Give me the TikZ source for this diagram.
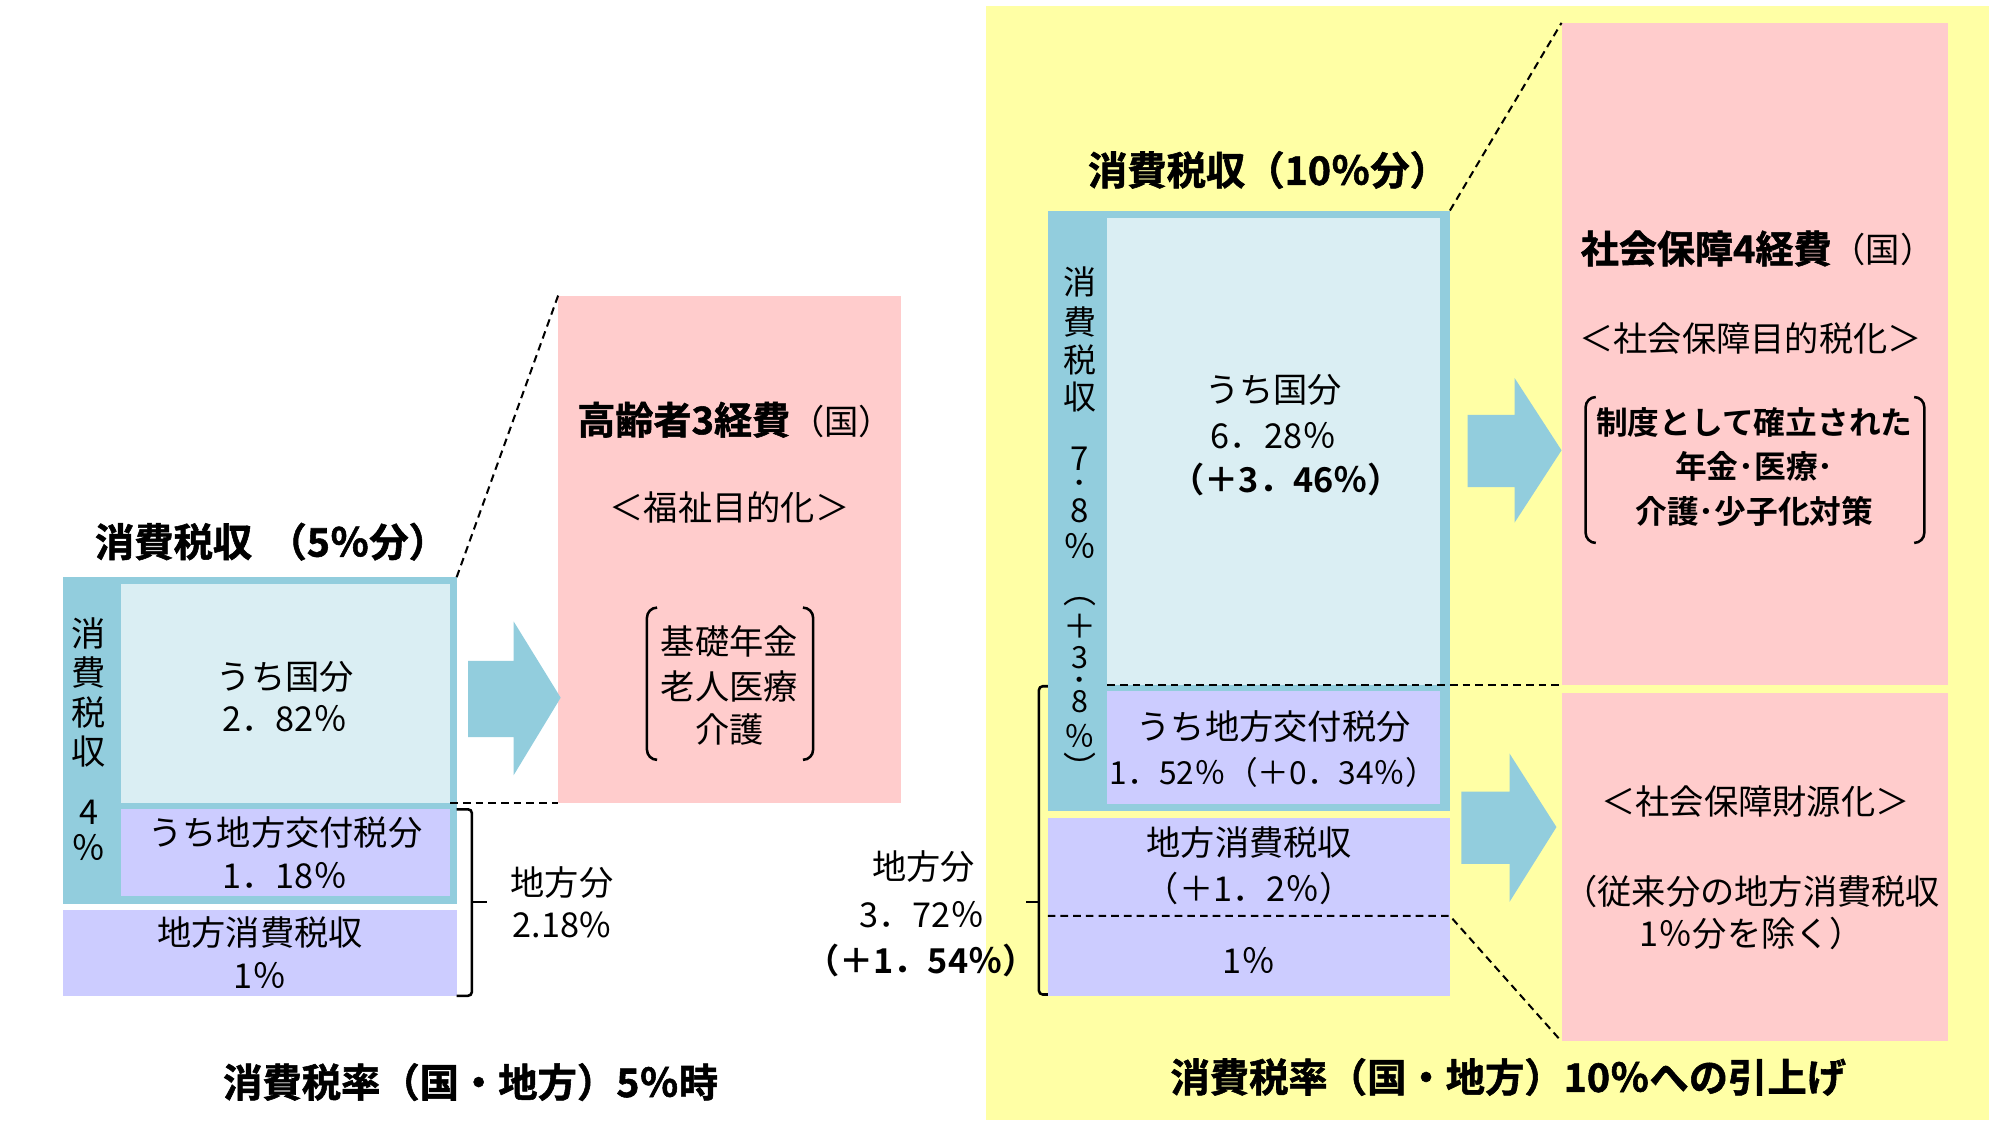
\documentclass[tikz,border=0pt]{standalone}
\usepackage{fontspec}
\setmainfont{Noto Sans CJK JP}[BoldFont={* Bold}]
\newfontfamily\heavy{Noto Sans CJK JP Bold}[FakeBold=1.4]
\definecolor{cblue}{RGB}{146,205,221}
\definecolor{clight}{RGB}{218,238,243}
\definecolor{clav}{RGB}{204,204,255}
\definecolor{cpink}{RGB}{255,204,204}
\definecolor{cyel}{RGB}{255,255,165}
\begin{document}
\begin{tikzpicture}[x=1pt,y=-1pt,
  box/.style={anchor=north west, inner sep=0pt, outer sep=0pt, draw=none},
  t/.style={inner sep=0pt, text height=23.8pt, text depth=3.2pt, font=\fontsize{27}{32}\selectfont},
  tsm/.style={inner sep=0pt, text height=22pt, text depth=3pt, font=\fontsize{25}{30}\selectfont},
  tb/.style={inner sep=0pt, text height=23.8pt, text depth=3.2pt, font=\fontsize{27}{32}\selectfont\bfseries},
  tbs/.style={inner sep=0pt, text height=22pt, text depth=3pt, font=\fontsize{25}{30}\selectfont\bfseries},
  ttl/.style={inner sep=0pt, text height=27.3pt, text depth=3.7pt, font=\fontsize{31}{36}\selectfont\heavy},
  vc/.style={inner sep=0pt, text height=20pt, text depth=0pt, font=\fontsize{26}{30}\selectfont},
  vcs/.style={inner sep=0pt, text height=18pt, text depth=0pt, font=\fontsize{24}{28}\selectfont},
  vdot/.style={inner sep=0pt, text height=9pt, text depth=-1pt, font=\fontsize{16}{18}\selectfont\bfseries},
  dsh/.style={line width=1.6pt, dash pattern=on 6pt off 4pt},
  brk/.style={line width=2pt, rounded corners=3pt},
  par/.style={line width=2pt, rounded corners=8pt},
  arr/.style={fill=cblue, draw=none}]
\fill[white] (0,0) rectangle (1568,891);
\useasboundingbox (0,0) rectangle (1568,891);
% yellow background of the right half
\fill[cyel] (777,5) rectangle (1568,883);

% ---------- left: 5% ----------
\node[box, fill=cblue, minimum width=310pt, minimum height=258pt] (lframe) at (50,455) {};
\node[box, fill=clight, minimum width=260pt, minimum height=173pt] (linner) at (95,460) {};
\node[box, fill=clav, minimum width=260pt, minimum height=68pt] (llav) at (95,638) {};
\node[box, fill=clav, minimum width=310pt, minimum height=68pt] (lbot) at (50,717) {};
\node[box, fill=cpink, minimum width=270pt, minimum height=400pt] (lpink) at (440,233) {};

\draw[dsh] (lframe.north east) -- (lpink.north west);
\draw[dsh] (linner.south east) -- (lpink.south west);

\fill[arr] (369,521) -- (405,521) -- (405,490) -- (442,550) -- (405,611) -- (405,581) -- (369,581) -- cycle;

\coordinate (lbt) at (360,638);
\coordinate (lbb) at (360,785);
\draw[brk] (lbt) -- (372,638) -- (372,785) -- (lbb);
\coordinate (lbm) at (372,711);
\coordinate (lbtip) at (384,711);
\draw[line width=2pt] (lbm) -- (lbtip);

\node[ttl] (ltitle) at (214,427) {消費税収\hspace{12pt}（5％分）};
\foreach \c/\yy [count=\i] in {消/499,費/530,税/562,収/592,4/640,％/668}
  \node[t] (lv\i) at (70,\yy) {\c};
\node[t] (lkoku1) at (225,533) {うち国分};
\node[t] (lkoku2) at (225,566) {2．82％};
\node[t] (lkofu1) at (225,656) {うち地方交付税分};
\node[t] (lkofu2) at (225,690) {1．18％};
\node[t] (lchiho1) at (205,735) {地方消費税収};
\node[t] (lchiho2) at (205,769) {1％};
\node[t] (lbun1) at (443,696) {地方分};
\node[t] (lbun2) at (443,729) {2.18\%};

\node[t, anchor=west] (lptitle) at (455,332) {{\fontsize{30}{34}\selectfont\heavy 高齢者3経費}（国）};
\node[t] (lpsub) at (575,400) {＜福祉目的化＞};
\draw[par] (518,479) -- (510,479) -- (510,599) -- (518,599);
\draw[par] (633,479) -- (641,479) -- (641,599) -- (633,599);
\node[t] (lpi1) at (575,506) {基礎年金};
\node[t] (lpi2) at (575,541) {老人医療};
\node[t] (lpi3) at (575,575) {介護};

\node[ttl] (lbottom) at (371,853) {消費税率（国・地方）5％時};

% ---------- right: 10% ----------
\node[box, fill=cblue, minimum width=317pt, minimum height=473pt] (rframe) at (826,166) {};
\node[box, fill=clight, minimum width=262pt, minimum height=368pt] (rinner) at (873,172) {};
\node[box, fill=clav, minimum width=262pt, minimum height=89pt] (rlav) at (873,545) {};
\node[box, fill=clav, minimum width=317pt, minimum height=140pt] (rbot) at (826,645) {};
\node[box, fill=cpink, minimum width=305pt, minimum height=522pt] (rpink1) at (1231,18) {};
\node[box, fill=cpink, minimum width=305pt, minimum height=275pt] (rpink2) at (1231,546) {};

\draw[dsh] (rframe.north east) -- (rpink1.north west);
\draw[dsh] (rinner.south west) -- (rpink1.south west);
\coordinate (rdl) at (826,722);
\coordinate (rdr) at (1143,722);
\draw[dsh] (rdl) -- (rdr) -- (rpink2.south west);

\fill[arr] (1157,327) -- (1194,327) -- (1194,298) -- (1231,355) -- (1194,412) -- (1194,384) -- (1157,384) -- cycle;
\fill[arr] (1152,624) -- (1190,624) -- (1190,594) -- (1227,652) -- (1190,711) -- (1190,681) -- (1152,681) -- cycle;

\coordinate (rbt) at (826,541);
\coordinate (rbb) at (826,784);
\draw[brk] (rbt) -- (819,541) -- (819,784) -- (rbb);
\coordinate (rbm) at (819,711);
\coordinate (rbtip) at (809,711);
\draw[line width=2pt] (rbm) -- (rbtip);

\node[ttl] (rtitle) at (1000,134) {消費税収（10％分）};
% vertical column text, placed by baseline
\foreach \c/\yy [count=\i] in {消/232,費/264,税/294,収/323,7/371,8/412,％/440,＋/503}
  \node[vc, anchor=base] (rv\i) at (851,\yy) {\c};
\node[vcs, anchor=base] (rv3b) at (851,527) {3};
\node[vcs, anchor=base] (rv8b) at (851,562) {8};
\node[vcs, anchor=base] (rvpb) at (851,589) {％};
\node[vdot, anchor=base] (rvd1) at (851,387) {・};
\node[vdot, anchor=base] (rvd2) at (851,542) {・};
\node[vc, anchor=base] (rvp1) at (851,476) {︵};
\node[vc, anchor=base] (rvp2) at (851,615) {︶};

\node[t] (rkoku1) at (1004,307) {うち国分};
\node[t] (rkoku2) at (1004,343) {6．28％};
\node[tb] (rkoku3) at (1014,378) {（＋3．46％）};
\node[t] (rkofu1) at (1004,573) {うち地方交付税分};
\node[tsm] (rkofu2) at (1004,609) {1．52％（＋0．34％）};
\node[t] (rchiho1) at (985,664) {地方消費税収};
\node[t] (rchiho2) at (985,700) {（＋1．2％）};
\node[t] (rchiho3) at (985,757) {1％};
\node[t] (rbun1) at (728,683) {地方分};
\node[t] (rbun2) at (727,721) {3．72％};
\node[tb] (rbun3) at (726,757) {（＋1．54％）};

\node[t, anchor=west] (rp1title) at (1246,197) {{\fontsize{30}{34}\selectfont\heavy 社会保障4経費}（国）};
\node[t] (rp1sub) at (1380,267) {＜社会保障目的税化＞};
\draw[par] (1258,313) -- (1250,313) -- (1250,428) -- (1258,428);
\draw[par] (1509,313) -- (1517,313) -- (1517,428) -- (1509,428);
\node[tbs] (rp1i1) at (1383,333) {制度として確立された};
\node[tbs] (rp1i2) at (1383,368) {年金･医療･};
\node[tbs] (rp1i3) at (1383,403) {介護･少子化対策};
\node[t] (rp2sub) at (1384,632) {＜社会保障財源化＞};
\node[t] (rp2a) at (1381,703) {（従来分の地方消費税収};
\node[t] (rp2b) at (1381,736) {1％分を除く）};

\node[ttl] (rbottom) at (1189,849) {消費税率（国・地方）10％への引上げ};
\end{tikzpicture}
\end{document}
